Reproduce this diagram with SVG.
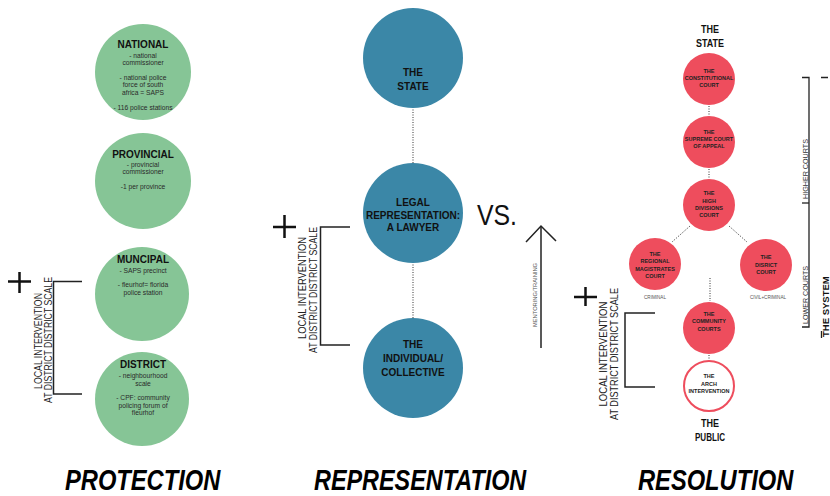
<svg xmlns="http://www.w3.org/2000/svg" width="830" height="496" viewBox="0 0 830 496">
<defs>
<style>
text{font-family:"Liberation Sans",Arial,sans-serif}
.g{fill:#86C596}
.b{fill:#3B87A7}
.r{fill:#EE4D5D}
.t{font-weight:bold;font-size:10px;fill:#111;text-anchor:middle}
.s{font-size:6.7px;fill:#2a2a2a;text-anchor:middle}
.m{font-weight:bold;font-size:10px;fill:#111;text-anchor:middle}
.c{font-weight:bold;font-size:5.5px;fill:#222;text-anchor:middle}
.tiny{font-size:4.6px;fill:#555;text-anchor:middle}
.ln{stroke:#222;stroke-width:1.5;fill:none}
.pl{stroke:#111;stroke-width:2.5;fill:none}
.dot{stroke:#333;stroke-width:1;stroke-dasharray:1 1.5;fill:none}
.rot{font-size:10.5px;fill:#222;text-anchor:middle}
.big{font-weight:bold;font-style:italic;font-size:30px;fill:#000}
.lbl{font-size:7px;fill:#333}
</style>
</defs>
<rect width="830" height="496" fill="#fff"/>

<g id="connectors">
  <line class="dot" x1="413" y1="92" x2="413" y2="344"/>
  <line class="dot" x1="709" y1="106" x2="709" y2="115"/>
  <line class="dot" x1="709" y1="169" x2="709" y2="178"/>
  <line class="dot" x1="690" y1="226" x2="672" y2="242"/>
  <line class="dot" x1="729" y1="226" x2="747" y2="242"/>
  <line class="dot" x1="710" y1="278" x2="710" y2="301"/>
  <line class="dot" x1="709" y1="355" x2="709" y2="360"/>
  <line class="ln" x1="541" y1="227" x2="541" y2="348"/>
  <polyline class="ln" points="526,242 541,226 556,241"/>
</g>

<!-- PROTECTION column -->
<g id="national">
  <circle class="g" cx="143" cy="72" r="48"/>
  <text class="t" x="143" y="48">NATIONAL</text>
  <text class="s" x="143" y="58">- national</text>
  <text class="s" x="143" y="65">commissioner</text>
  <text class="s" x="143" y="80">- national police</text>
  <text class="s" x="143" y="87">force of south</text>
  <text class="s" x="143" y="94.5">africa = SAPS</text>
  <text class="s" x="143" y="110">- 116 police stations</text>
</g>
<g id="provincial">
  <circle class="g" cx="143" cy="181" r="48"/>
  <text class="t" x="143" y="158">PROVINCIAL</text>
  <text class="s" x="143" y="167">- provincial</text>
  <text class="s" x="143" y="174">commissioner</text>
  <text class="s" x="143" y="188.5">-1 per province</text>
</g>
<g id="muncipal">
  <circle class="g" cx="142" cy="294" r="47"/>
  <text class="t" x="143" y="263">MUNCIPAL</text>
  <text class="s" x="143" y="273">- SAPS precinct</text>
  <text class="s" x="143" y="287">- fleurhof= florida</text>
  <text class="s" x="143" y="294.5">police station</text>
</g>
<g id="district">
  <circle class="g" cx="142" cy="399" r="47"/>
  <text class="t" x="143" y="368">DISTRICT</text>
  <text class="s" x="143" y="378">- neighbourhood</text>
  <text class="s" x="143" y="385.5">scale</text>
  <text class="s" x="143" y="400">- CPF: community</text>
  <text class="s" x="143" y="407.5">policing forum of</text>
  <text class="s" x="143" y="415">fleurhof</text>
</g>
<g id="local-left">
  <path class="pl" d="M8 281.5H31M19.5 272V293"/>
  <path class="ln" d="M82 281.5H53.5V394H82"/>
  <text class="rot" transform="translate(42,341) rotate(-90)" textLength="96" lengthAdjust="spacingAndGlyphs">LOCAL INTERVENTION</text>
  <text class="rot" transform="translate(52,340) rotate(-90)" textLength="126" lengthAdjust="spacingAndGlyphs">AT DISTRICT DISTRICT SCALE</text>
</g>

<!-- REPRESENTATION column -->
<g id="the-state-mid">
  <circle class="b" cx="413" cy="58" r="50"/>
  <text class="m" x="413" y="76">THE</text>
  <text class="m" x="413" y="90">STATE</text>
</g>
<g id="legal">
  <circle class="b" cx="413" cy="213" r="50"/>
  <text class="m" x="413" y="206">LEGAL</text>
  <text class="m" x="413" y="218.5">REPRESENTATION:</text>
  <text class="m" x="413" y="231">A LAWYER</text>
</g>
<g id="individual">
  <circle class="b" cx="413" cy="368" r="50"/>
  <text class="m" x="413" y="347.5">THE</text>
  <text class="m" x="413" y="362">INDIVIDUAL/</text>
  <text class="m" x="413" y="376">COLLECTIVE</text>
</g>
<g id="local-mid">
  <path class="pl" d="M273 227H296M284.5 215V238"/>
  <path class="ln" d="M350 227H320.5V345H350"/>
  <text class="rot" transform="translate(306,288) rotate(-90)" textLength="102" lengthAdjust="spacingAndGlyphs">LOCAL INTERVENTION</text>
  <text class="rot" transform="translate(317,290) rotate(-90)" textLength="126" lengthAdjust="spacingAndGlyphs">AT DISTRICT DISTRICT SCALE</text>
</g>
<g id="vs">
  <text x="477" y="225" font-size="30" fill="#111" textLength="40" lengthAdjust="spacingAndGlyphs">VS.</text>
</g>
<g id="mentoring">
  <text class="tiny" transform="translate(536.5,295) rotate(-90)" style="font-size:5px" textLength="64" lengthAdjust="spacingAndGlyphs">MENTORING/TRAINING</text>
</g>

<!-- RESOLUTION column -->
<g id="the-state-right">
  <text x="710" y="33" font-size="11" font-weight="bold" fill="#111" text-anchor="middle" textLength="18" lengthAdjust="spacingAndGlyphs">THE</text>
  <text x="710" y="47" font-size="11" font-weight="bold" fill="#111" text-anchor="middle" textLength="28" lengthAdjust="spacingAndGlyphs">STATE</text>
</g>
<g id="constitutional">
  <circle class="r" cx="709" cy="79" r="26"/>
  <text class="c" x="709" y="73">THE</text>
  <text class="c" x="709" y="80">CONSTITUTIONAL</text>
  <text class="c" x="709" y="87">COURT</text>
</g>
<g id="supreme">
  <circle class="r" cx="709" cy="142" r="26"/>
  <text class="c" x="709" y="134">THE</text>
  <text class="c" x="709" y="141">SUPREME COURT</text>
  <text class="c" x="709" y="148">OF APPEAL</text>
</g>
<g id="high">
  <circle class="r" cx="709" cy="205" r="26"/>
  <text class="c" x="709" y="195">THE</text>
  <text class="c" x="709" y="202.5">HIGH</text>
  <text class="c" x="709" y="210">DIVISIONS</text>
  <text class="c" x="709" y="217">COURT</text>
</g>
<g id="regional">
  <circle class="r" cx="655" cy="264" r="26"/>
  <text class="c" x="655" y="256">THE</text>
  <text class="c" x="655" y="263">REGIONAL</text>
  <text class="c" x="655" y="270.5">MAGISTRATES</text>
  <text class="c" x="655" y="278">COURT</text>
  <text class="tiny" x="655" y="299">CRIMINAL</text>
</g>
<g id="disrict">
  <circle class="r" cx="766" cy="265" r="26"/>
  <text class="c" x="766" y="259">THE</text>
  <text class="c" x="766" y="266.5">DISRICT</text>
  <text class="c" x="766" y="274">COURT</text>
  <text class="tiny" x="768" y="299">CIVIL+CRIMINAL</text>
</g>
<g id="community">
  <circle class="r" cx="709" cy="328" r="26"/>
  <text class="c" x="709" y="316">THE</text>
  <text class="c" x="709" y="323">COMMUNITY</text>
  <text class="c" x="709" y="330.5">COURTS</text>
</g>
<g id="arch">
  <circle cx="709" cy="386" r="25" fill="#fff" stroke="#EE4D5D" stroke-width="2"/>
  <text class="c" x="709" y="378">THE</text>
  <text class="c" x="709" y="386">ARCH</text>
  <text class="c" x="709" y="393">INTERVENTION</text>
</g>
<g id="the-public">
  <text x="710" y="427" font-size="11" font-weight="bold" fill="#111" text-anchor="middle" textLength="18" lengthAdjust="spacingAndGlyphs">THE</text>
  <text x="710" y="441" font-size="11" font-weight="bold" fill="#111" text-anchor="middle" textLength="30" lengthAdjust="spacingAndGlyphs">PUBLIC</text>
</g>
<g id="local-right">
  <path class="pl" d="M574 297H597M585.5 287V306"/>
  <path class="ln" d="M655 313H625V387H655"/>
  <text class="rot" transform="translate(607,354) rotate(-90)" textLength="105" lengthAdjust="spacingAndGlyphs">LOCAL INTERVENTION</text>
  <text class="rot" transform="translate(618,354) rotate(-90)" textLength="132" lengthAdjust="spacingAndGlyphs">AT DISTRICT DISTRICT SCALE</text>
</g>
<g id="courts-scale">
  <path class="ln" d="M802 77.5H809V327H802" style="stroke-width:1.3"/>
  <line class="ln" x1="802" y1="203" x2="809" y2="203" style="stroke-width:1.3"/>
  <text class="lbl" transform="translate(807.5,199) rotate(-90)" textLength="60" lengthAdjust="spacingAndGlyphs">HIGHER COURTS</text>
  <text class="lbl" transform="translate(807.5,324) rotate(-90)" textLength="58" lengthAdjust="spacingAndGlyphs">LOWER COURTS</text>
</g>
<g id="the-system">
  <path class="ln" d="M821 77.5H828M821.5 331V338" style="stroke-width:1.3"/>
  <text transform="translate(829,337) rotate(-90)" font-size="9.5" font-weight="bold" fill="#111">THE SYSTEM</text>
</g>

<!-- Titles -->
<g id="titles">
  <text class="big" transform="translate(65,490) scale(0.79,1)">PROTECTION</text>
  <text class="big" transform="translate(314,490) scale(0.78,1)">REPRESENTATION</text>
  <text class="big" transform="translate(638,490) scale(0.79,1)">RESOLUTION</text>
</g>
</svg>
